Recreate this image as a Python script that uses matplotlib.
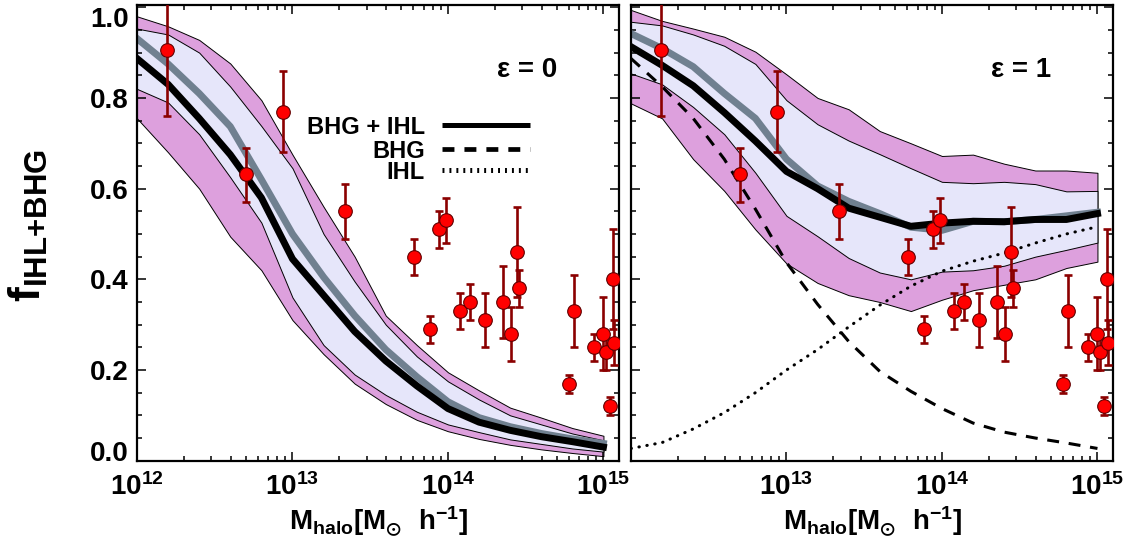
import matplotlib

matplotlib.use("Agg")
import matplotlib.pyplot as plt  # noqa: E402
import numpy as np  # noqa: E402
from matplotlib.ticker import FixedLocator, LogLocator, MultipleLocator, NullFormatter  # noqa: E402

plt.rcParams["font.family"] = ["Liberation Sans", "DejaVu Sans"]
plt.rcParams["font.weight"] = "bold"
plt.rcParams["mathtext.fontset"] = "custom"
plt.rcParams["mathtext.rm"] = "Liberation Sans:bold"
plt.rcParams["mathtext.bf"] = "Liberation Sans:bold"
plt.rcParams["mathtext.it"] = "Liberation Sans:bold"
plt.rcParams["mathtext.fallback"] = "stixsans"
plt.rcParams["lines.scale_dashes"] = False

# model curves, log10(M_halo) grid
log_m = [12.0, 12.2, 12.4, 12.6, 12.8, 13.0, 13.2, 13.4, 13.6, 13.8, 14.0, 14.2, 14.4, 14.6, 14.8, 15.0]

# epsilon = 0
e0_outer_hi = [0.980, 0.958, 0.928, 0.876, 0.795, 0.675, 0.560, 0.450, 0.320, 0.255, 0.195, 0.155, 0.117, 0.095, 0.072, 0.055]
e0_inner_hi = [0.953, 0.940, 0.900, 0.825, 0.738, 0.645, 0.500, 0.395, 0.300, 0.230, 0.175, 0.135, 0.100, 0.080, 0.060, 0.045]
e0_grey = [0.931, 0.875, 0.810, 0.737, 0.620, 0.500, 0.405, 0.320, 0.245, 0.185, 0.130, 0.095, 0.075, 0.060, 0.048, 0.038]
e0_black = [0.887, 0.830, 0.755, 0.675, 0.580, 0.445, 0.365, 0.285, 0.220, 0.165, 0.115, 0.085, 0.067, 0.053, 0.042, 0.030]
e0_inner_lo = [0.820, 0.790, 0.720, 0.625, 0.525, 0.360, 0.255, 0.190, 0.145, 0.108, 0.080, 0.063, 0.047, 0.037, 0.027, 0.020]
e0_outer_lo = [0.755, 0.680, 0.600, 0.494, 0.420, 0.310, 0.235, 0.170, 0.125, 0.090, 0.065, 0.048, 0.035, 0.025, 0.017, 0.010]

# epsilon = 1
e1_outer_hi = [0.994, 0.970, 0.953, 0.935, 0.902, 0.852, 0.800, 0.775, 0.727, 0.700, 0.672, 0.675, 0.655, 0.640, 0.640, 0.635]
e1_inner_hi = [0.968, 0.960, 0.940, 0.915, 0.875, 0.795, 0.742, 0.706, 0.676, 0.645, 0.615, 0.612, 0.615, 0.610, 0.594, 0.595]
e1_grey = [0.942, 0.909, 0.869, 0.810, 0.755, 0.665, 0.606, 0.572, 0.545, 0.515, 0.508, 0.528, 0.527, 0.532, 0.540, 0.548]
e1_black = [0.913, 0.872, 0.827, 0.768, 0.705, 0.638, 0.600, 0.557, 0.537, 0.517, 0.524, 0.528, 0.527, 0.532, 0.532, 0.545]
e1_inner_lo = [0.854, 0.830, 0.780, 0.720, 0.635, 0.540, 0.495, 0.447, 0.415, 0.400, 0.417, 0.420, 0.430, 0.450, 0.465, 0.481]
e1_outer_lo = [0.788, 0.755, 0.665, 0.595, 0.510, 0.435, 0.392, 0.365, 0.350, 0.330, 0.355, 0.376, 0.388, 0.400, 0.425, 0.439]
e1_bhg = [0.887, 0.825, 0.755, 0.665, 0.555, 0.437, 0.345, 0.263, 0.197, 0.153, 0.115, 0.083, 0.063, 0.050, 0.039, 0.027]
e1_ihl = [0.027, 0.040, 0.070, 0.106, 0.150, 0.200, 0.245, 0.295, 0.343, 0.385, 0.418, 0.440, 0.458, 0.480, 0.500, 0.516]

# observed clusters
obs_log_m = [12.19, 12.70, 12.94, 13.34, 13.78, 13.94, 13.99, 13.885, 14.08, 14.14, 14.235, 14.357,
             14.407, 14.447, 14.454, 14.808, 14.78, 14.937, 14.997, 15.019, 15.059, 15.066, 15.04]
obs_f = [0.905, 0.632, 0.77, 0.55, 0.45, 0.51, 0.53, 0.29, 0.33, 0.35, 0.31, 0.35,
         0.28, 0.46, 0.38, 0.33, 0.17, 0.25, 0.28, 0.24, 0.40, 0.26, 0.12]
obs_lo = [0.76, 0.57, 0.68, 0.49, 0.41, 0.47, 0.48, 0.26, 0.29, 0.31, 0.25, 0.27,
          0.22, 0.36, 0.34, 0.25, 0.15, 0.22, 0.20, 0.20, 0.29, 0.21, 0.10]
obs_hi = [1.06, 0.69, 0.86, 0.61, 0.49, 0.55, 0.58, 0.32, 0.37, 0.39, 0.37, 0.43,
          0.34, 0.56, 0.42, 0.41, 0.19, 0.28, 0.36, 0.27, 0.51, 0.31, 0.14]

yticks = [0.0, 0.2, 0.4, 0.6, 0.8, 1.0]
ytick_labels = ["0.0", "0.2", "0.4", "0.6", "0.8", "1.0"]
xticks = [1e12, 1e13, 1e14, 1e15]
xtick_labels = [r"$\mathbf{10^{12}}$", r"$\mathbf{10^{13}}$", r"$\mathbf{10^{14}}$", r"$\mathbf{10^{15}}$"]
# right panel drops its first label (it would sit under the left panel's 10^15)
xtick_labels_right = [""] + xtick_labels[1:]
panel_labels = ["\u03b5 = 0", "\u03b5 = 1"]
legend_labels = ["BHG + IHL", "BHG", "IHL"]

PLUM = "#dda0dd"
LAVENDER = "#e6e6fa"
SLATE = "#708090"

W, H = 1138, 550
fig = plt.figure(figsize=(W / 100, H / 100), dpi=100)
bottom = 1 - 460.7 / H
height = (460.7 - 5) / H
ax1 = fig.add_axes([137 / W, bottom, (619 - 137) / W, height])
ax2 = fig.add_axes([631 / W, bottom, (1113 - 631) / W, height])

mass = 10 ** np.asarray(log_m)
obs_mass = 10 ** np.asarray(obs_log_m)
obs_f = np.asarray(obs_f)
yerr = np.vstack([obs_f - np.asarray(obs_lo), np.asarray(obs_hi) - obs_f])


def _draw_model(ax, outer_hi, inner_hi, grey, black, inner_lo, outer_lo):
    ax.fill_between(mass, outer_lo, outer_hi, facecolor=PLUM, edgecolor="black", linewidth=0.7, zorder=1)
    ax.fill_between(mass, inner_lo, inner_hi, facecolor=LAVENDER, edgecolor="black", linewidth=0.7, zorder=1.5)
    ax.plot(mass, grey, color=SLATE, linewidth=5, solid_joinstyle="round", zorder=2)
    ax.plot(mass, black, color="black", linewidth=5, solid_joinstyle="round", zorder=3)


def _draw_obs(ax):
    _, caps, _ = ax.errorbar(obs_mass, obs_f, yerr=yerr, fmt="none", ecolor="#8b0000",
                             elinewidth=1.9, capsize=2.6, capthick=1.9, zorder=5)
    for cap in caps:
        cap.set_color("#ee0000")
    ax.plot(obs_mass, obs_f, "o", markersize=9.8, markerfacecolor="#ff0000",
            markeredgecolor="#600000", markeredgewidth=0.8, linestyle="none", zorder=6)


def _style(ax, left_labels, xlabels):
    ax.set_xscale("log")
    ax.set_xlim(1e12, 10 ** 15.1)
    ax.set_ylim(0.0, 1.005)
    ax.xaxis.set_major_locator(FixedLocator(xticks))
    ax.set_xticklabels(xlabels)
    ax.xaxis.set_minor_locator(LogLocator(base=10, subs=np.arange(2, 10)))
    ax.xaxis.set_minor_formatter(NullFormatter())
    ax.yaxis.set_major_locator(FixedLocator(yticks))
    ax.yaxis.set_minor_locator(MultipleLocator(0.05))
    ax.tick_params(which="both", direction="in", top=True, right=True, width=1.1, labelsize=20)
    ax.tick_params(which="major", length=6.5)
    ax.tick_params(which="minor", length=3.5)
    ax.tick_params(axis="x", pad=9)
    ax.tick_params(axis="y", pad=6, labelleft=left_labels)
    for sp in ax.spines.values():
        sp.set_linewidth(1.6)
    ax.set_xlabel(r"$\mathbf{M_{halo}[M_{\odot}\ \ h^{-1}]}$", fontsize=20, labelpad=2)
    if left_labels:
        ax.set_yticklabels(ytick_labels)
        labels = ax.get_yticklabels()
        labels[0].set_va("baseline")
        labels[-1].set_va("top")


_draw_model(ax1, e0_outer_hi, e0_inner_hi, e0_grey, e0_black, e0_inner_lo, e0_outer_lo)
_draw_model(ax2, e1_outer_hi, e1_inner_hi, e1_grey, e1_black, e1_inner_lo, e1_outer_lo)
ax2.plot(mass, e1_bhg, color="black", linewidth=2.2, dashes=(8.6, 7.0), zorder=4)
ax2.plot(mass, e1_ihl, color="black", linewidth=2.2, dashes=(0.3, 5.5), dash_capstyle="round", zorder=4)
_draw_obs(ax1)
_draw_obs(ax2)
_style(ax1, True, xtick_labels)
_style(ax2, False, xtick_labels_right)

ax1.set_ylabel(r"$\mathbf{f}_{\mathbf{IHL{+}BHG}}$", fontsize=32)
ax1.yaxis.set_label_coords(-0.18, 0.515)

for ax, txt in zip([ax1, ax2], panel_labels):
    ax.text(0.81, 0.857, txt, transform=ax.transAxes, fontsize=20, fontweight="bold",
            ha="center", va="center", zorder=7)

# legend (left panel)
leg_y = [0.737, 0.684, 0.638]
leg_styles = [dict(linewidth=3.6), dict(linewidth=3.4, dashes=(8.6, 7.2)),
              dict(linewidth=3.6, dashes=(1.4, 3.6))]
for y, label, style in zip(leg_y, legend_labels, leg_styles):
    ax1.text(0.5975, y, label, transform=ax1.transAxes, fontsize=17, fontweight="bold",
             ha="right", va="center_baseline", zorder=7)
    ax1.plot([0.633, 0.815], [y, y], transform=ax1.transAxes, color="black",
             solid_capstyle="butt", dash_capstyle="butt", zorder=7, **style)

fig.savefig("out.png", dpi=100)
plt.close(fig)
